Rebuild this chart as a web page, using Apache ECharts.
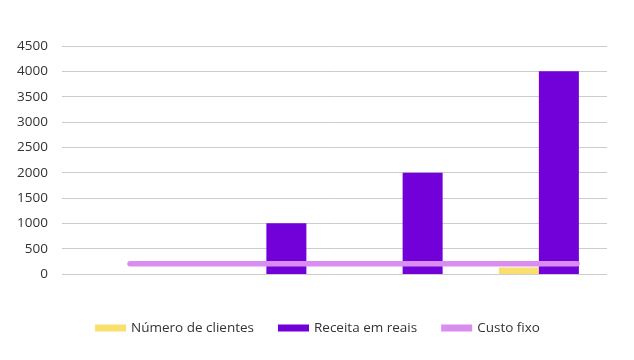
<!DOCTYPE html>
<html>
<head>
<meta charset="utf-8">
<script src="https://cdn.jsdelivr.net/npm/echarts@6/dist/echarts.min.js"></script>
<style>html,body{margin:0;padding:0;background:#fff}#c{width:634px;height:360px}</style>
</head>
<body>
<div id="c"></div>
<script>
const categories = ['1', '2', '3', '4'];
const numeroClientes = [0, 0, 0, 130];
const receitaReais = [0, 1000, 2000, 4000];
const custoFixo = [200, 200, 200, 200];
const yTicks = [0, 500, 1000, 1500, 2000, 2500, 3000, 3500, 4000, 4500];

const chart = echarts.init(document.getElementById('c'), null, {renderer: 'canvas'});
const font = '"Open Sans", "Noto Sans", sans-serif';
chart.setOption({
  animation: false,
  backgroundColor: '#ffffff',
  grid: [
    {left: 62, right: 27, top: 46, bottom: 86},
    {left: 130, right: 57, top: 46, bottom: 86}
  ],
  legend: {
    bottom: 20,
    left: 90,
    itemWidth: 31,
    itemHeight: 7,
    itemGap: 24,
    textStyle: {fontFamily: font, fontSize: 13.5, color: '#333'},
    data: [
      {name: 'Número de clientes', icon: 'rect'},
      {name: 'Receita em reais', icon: 'rect'},
      {name: 'Custo fixo', icon: 'rect', itemStyle: {color: '#DA8DF1'}}
    ]
  },
  xAxis: [
    {type: 'category', gridIndex: 0, data: categories, axisLine: {show: false}, axisTick: {show: false}, axisLabel: {show: false}},
    {type: 'category', gridIndex: 1, data: categories, boundaryGap: false, show: false}
  ],
  yAxis: [
    {type: 'value', gridIndex: 0, min: yTicks[0], max: yTicks[yTicks.length - 1], interval: 500,
     axisLine: {show: false}, axisTick: {show: false},
     axisLabel: {margin: 14, fontFamily: font, fontSize: 13.5, color: '#333', formatter: v => String(v)},
     splitLine: {lineStyle: {color: '#cccccc', width: 1}}},
    {type: 'value', gridIndex: 1, min: yTicks[0], max: yTicks[yTicks.length - 1], interval: 500, show: false}
  ],
  series: [
    {name: 'Número de clientes', type: 'bar', xAxisIndex: 0, yAxisIndex: 0, data: numeroClientes,
     barWidth: 40, barGap: '0%', itemStyle: {color: '#F9E06E'}},
    {name: 'Receita em reais', type: 'bar', xAxisIndex: 0, yAxisIndex: 0, data: receitaReais,
     barWidth: 40, barGap: '0%', itemStyle: {color: '#7200D8'}},
    {name: 'Custo fixo', type: 'line', xAxisIndex: 1, yAxisIndex: 1, data: custoFixo,
     symbol: 'none', lineStyle: {color: '#DA8DF1', width: 5.5, cap: 'round'}, itemStyle: {color: '#DA8DF1'}, z: 5}
  ]
});
</script>
</body>
</html>
